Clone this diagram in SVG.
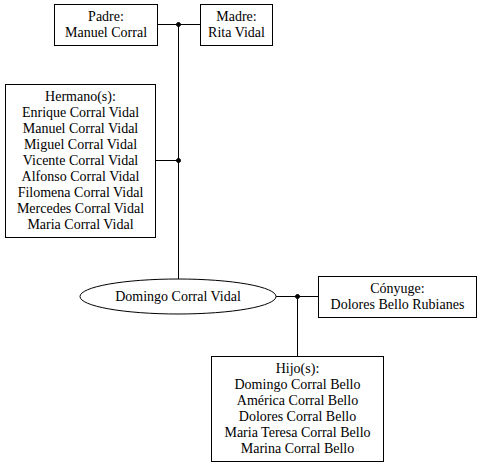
<svg xmlns="http://www.w3.org/2000/svg" width="480" height="466" viewBox="0 0 480 466">
<defs>
<circle id="dot" r="2" fill="#000"/>
</defs>
<g id="connectors" stroke="#000" stroke-width="1" fill="none">
<path d="M157.5,24.5H200.5M178.5,24.5V279M155.5,160.5H178.5M276,296.5H318.5M297.5,296.5V356.5"/>
<use href="#dot" x="178.5" y="24.5"/>
<use href="#dot" x="178.5" y="160.5"/>
<use href="#dot" x="297.5" y="296.5"/>
</g>
<g id="padre">
<rect x="54.5" y="4.5" width="103" height="41" fill="#fff" stroke="#000"/>
<text font-family="Times New Roman" font-size="14" text-anchor="middle" x="106" y="21">Padre:</text>
<text font-family="Times New Roman" font-size="14" text-anchor="middle" x="106" y="37">Manuel Corral</text>
</g>
<g id="madre">
<rect x="200.5" y="4.5" width="72" height="41" fill="#fff" stroke="#000"/>
<text font-family="serif" font-size="14" text-anchor="middle" x="236.5" y="21">Madre:</text>
<text font-family="serif" font-size="14" text-anchor="middle" x="236.5" y="37">Rita Vidal</text>
</g>
<g id="hermanos">
<rect x="5.5" y="84.5" width="150" height="153" fill="#fff" stroke="#000"/>
<text font-family="Liberation Serif" font-size="14" text-anchor="middle" x="80.5" y="101">Hermano(s):</text>
<text font-family="Liberation Serif" font-size="14" text-anchor="middle" x="80.5" y="117">Enrique Corral Vidal</text>
<text font-family="Liberation Serif" font-size="14" text-anchor="middle" x="80.5" y="133">Manuel Corral Vidal</text>
<text font-family="Liberation Serif" font-size="14" text-anchor="middle" x="80.5" y="149">Miguel Corral Vidal</text>
<text font-family="Liberation Serif" font-size="14" text-anchor="middle" x="80.5" y="165">Vicente Corral Vidal</text>
<text font-family="Liberation Serif" font-size="14" text-anchor="middle" x="80.5" y="181">Alfonso Corral Vidal</text>
<text font-family="Liberation Serif" font-size="14" text-anchor="middle" x="80.5" y="197">Filomena Corral Vidal</text>
<text font-family="Liberation Serif" font-size="14" text-anchor="middle" x="80.5" y="213">Mercedes Corral Vidal</text>
<text font-family="Liberation Serif" font-size="14" text-anchor="middle" x="80.5" y="229">Maria Corral Vidal</text>
</g>
<g id="domingo">
<ellipse cx="178" cy="296.5" rx="98" ry="17.5" fill="#fff" stroke="#000"/>
<text font-family="Times New Roman, serif" font-size="14" text-anchor="middle" x="178" y="301">Domingo Corral Vidal</text>
</g>
<g id="conyuge">
<rect x="318.5" y="276.5" width="158" height="41" fill="#fff" stroke="#000"/>
<text font-family="Times New Roman, serif" font-size="14" text-anchor="middle" x="397.5" y="293">Cónyuge:</text>
<text font-family="Times New Roman, serif" font-size="14" text-anchor="middle" x="397.5" y="309">Dolores Bello Rubianes</text>
</g>
<g id="hijos">
<rect x="211.5" y="356.5" width="172" height="105" fill="#fff" stroke="#000"/>
<text font-family="Liberation Serif, serif" font-size="14" text-anchor="middle" x="297.5" y="373">Hijo(s):</text>
<text font-family="Liberation Serif, serif" font-size="14" text-anchor="middle" x="297.5" y="389">Domingo Corral Bello</text>
<text font-family="Liberation Serif, serif" font-size="14" text-anchor="middle" x="297.5" y="405">América Corral Bello</text>
<text font-family="Liberation Serif, serif" font-size="14" text-anchor="middle" x="297.5" y="421">Dolores Corral Bello</text>
<text font-family="Liberation Serif, serif" font-size="14" text-anchor="middle" x="297.5" y="437">Maria Teresa Corral Bello</text>
<text font-family="Liberation Serif, serif" font-size="14" text-anchor="middle" x="297.5" y="453">Marina Corral Bello</text>
</g>
</svg>
